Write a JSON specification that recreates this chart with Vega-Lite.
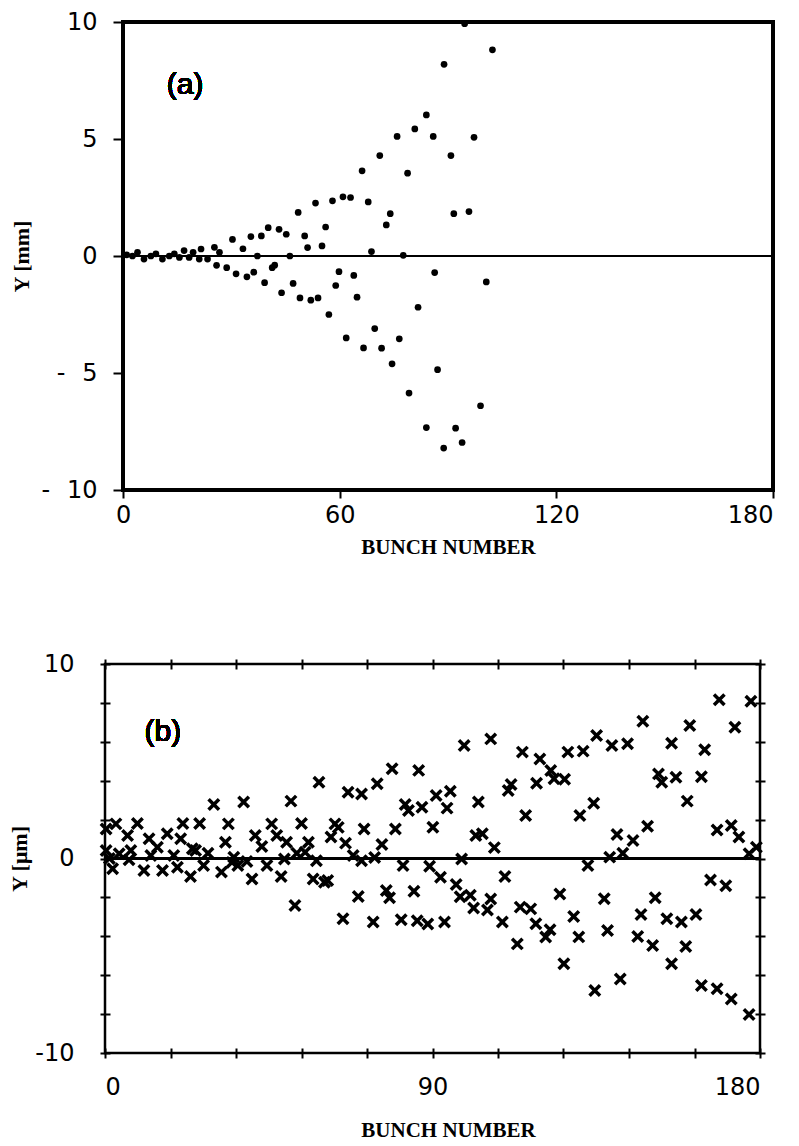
{
  "$schema": "https://vega.github.io/schema/vega-lite/v6.json",
  "background": "white",
  "padding": {"left": 7, "top": 10, "right": 10, "bottom": 2},
  "config": {
    "view": {"stroke": "black", "strokeWidth": 2.5},
    "axis": {"labelFont": "DejaVu Sans", "labelFontSize": 24, "labelColor": "black", "titleFont": "Liberation Serif", "titleFontWeight": "bold", "titleColor": "black", "tickColor": "black", "tickWidth": 2, "domain": false, "grid": false}
  },
  "datasets": {
    "a": [
      {"x":1,"y":0.05},{"x":2.6,"y":0.0},{"x":4,"y":0.16},{"x":5.8,"y":-0.13},{"x":7.7,"y":0.0},{"x":9.1,"y":0.09},{"x":10.9,"y":-0.13},{"x":12.8,"y":0.0},{"x":14.2,"y":0.09},{"x":15.6,"y":-0.06},{"x":16.9,"y":0.23},{"x":18.3,"y":-0.06},{"x":19.4,"y":0.16},{"x":21.1,"y":-0.13},{"x":21.6,"y":0.3},{"x":23.4,"y":-0.13},{"x":25.3,"y":0.37},{"x":25.9,"y":-0.4},{"x":26.7,"y":0.16},{"x":28.7,"y":-0.5},{"x":30.3,"y":0.71},{"x":31.3,"y":-0.76},{"x":33.2,"y":0.31},{"x":34.3,"y":-0.89},{"x":35.4,"y":0.83},{"x":36.2,"y":-0.69},{"x":37.2,"y":0.0},{"x":38.3,"y":0.86},{"x":39.2,"y":-1.14},{"x":40.2,"y":1.21},{"x":41.3,"y":-0.5},{"x":42,"y":-0.39},{"x":43.2,"y":1.14},{"x":43.9,"y":-1.57},{"x":45.2,"y":0.93},{"x":46.2,"y":0.0},{"x":47.1,"y":-1.17},{"x":48.5,"y":1.86},{"x":49,"y":-1.79},{"x":50.3,"y":0.86},{"x":51.1,"y":0.36},{"x":52,"y":-1.89},{"x":53.3,"y":2.26},{"x":54,"y":-1.79},{"x":55.1,"y":0.43},{"x":56.1,"y":1.24},{"x":57,"y":-2.5},{"x":58,"y":2.36},{"x":58.9,"y":-1.26},{"x":59.8,"y":-0.67},{"x":60.9,"y":2.53},{"x":61.8,"y":-3.5},{"x":63,"y":2.5},{"x":63.9,"y":-0.83},{"x":64.8,"y":-1.76},{"x":66.2,"y":3.64},{"x":66.6,"y":-3.93},{"x":67.9,"y":2.31},{"x":68.8,"y":0.19},{"x":69.7,"y":-3.1},{"x":71.1,"y":4.29},{"x":71.6,"y":-3.94},{"x":72.9,"y":1.33},{"x":74,"y":1.81},{"x":74.5,"y":-4.61},{"x":75.9,"y":5.11},{"x":76.5,"y":-3.54},{"x":77.6,"y":0.03},{"x":78.8,"y":3.54},{"x":79.2,"y":-5.86},{"x":80.8,"y":5.43},{"x":81.7,"y":-2.19},{"x":84,"y":6.03},{"x":84,"y":-7.33},{"x":85.9,"y":5.11},{"x":86.3,"y":-0.71},{"x":87.1,"y":-4.86},{"x":88.8,"y":-8.21},{"x":88.9,"y":8.19},{"x":90.8,"y":4.29},{"x":91.6,"y":1.81},{"x":92.1,"y":-7.36},{"x":93.9,"y":-7.97},{"x":94.6,"y":9.93},{"x":95.8,"y":1.9},{"x":97.2,"y":5.07},{"x":99,"y":-6.4},{"x":100.6,"y":-1.11},{"x":102.3,"y":8.81}
    ],
    "b": [
      {"x":0.3,"y":1.52},{"x":3.0,"y":1.78},{"x":6.2,"y":1.18},{"x":8.9,"y":1.8},{"x":0.3,"y":0.41},{"x":1.2,"y":0.0},{"x":3.9,"y":0.24},{"x":2.1,"y":-0.53},{"x":7.1,"y":0.41},{"x":6.6,"y":-0.07},{"x":10.7,"y":-0.62},{"x":12.1,"y":1.01},{"x":14.4,"y":0.58},{"x":17.1,"y":1.27},{"x":12.6,"y":0.15},{"x":15.8,"y":-0.62},{"x":18.9,"y":0.15},{"x":19.9,"y":-0.45},{"x":20.8,"y":1.01},{"x":21.4,"y":1.8},{"x":23.5,"y":-0.93},{"x":24.0,"y":0.5},{"x":24.9,"y":0.41},{"x":26.0,"y":1.8},{"x":27.1,"y":-0.36},{"x":28.3,"y":0.27},{"x":29.9,"y":2.78},{"x":32.0,"y":-0.7},{"x":33.1,"y":0.84},{"x":33.9,"y":1.78},{"x":34.9,"y":-0.2},
      {"x":35.4,"y":0.07},{"x":36.5,"y":-0.36},{"x":38.1,"y":2.9},{"x":39.0,"y":-0.15},{"x":40.4,"y":-1.05},{"x":41.3,"y":1.18},{"x":43.1,"y":0.62},{"x":44.5,"y":-0.36},{"x":45.8,"y":1.78},{"x":47.2,"y":1.18},{"x":48.4,"y":-0.93},{"x":49.3,"y":-0.03},{"x":49.9,"y":0.84},{"x":51.1,"y":2.95},{"x":52.7,"y":0.27},{"x":52.2,"y":-2.42},{"x":54.0,"y":1.8},{"x":55.0,"y":0.32},{"x":55.9,"y":0.84},{"x":57.2,"y":-1.05},{"x":58.1,"y":-0.12},{"x":58.8,"y":3.92},{"x":60.3,"y":-1.22},{"x":61.2,"y":-1.13},{"x":62.1,"y":1.1},{"x":63.2,"y":1.78},{"x":64.1,"y":1.6},{"x":65.4,"y":-3.1},{"x":66.1,"y":0.79},{"x":66.8,"y":3.41},{"x":68.2,"y":0.15},{"x":69.6,"y":-1.95},{"x":70.5,"y":3.32},{"x":70.5,"y":-0.12},{"x":71.2,"y":1.52},
      {"x":73.7,"y":-3.27},{"x":74.1,"y":0.05},{"x":74.8,"y":3.84},{"x":76.1,"y":0.72},{"x":77.3,"y":-1.65},{"x":78.2,"y":-2.02},{"x":78.9,"y":4.61},{"x":79.8,"y":1.52},{"x":81.4,"y":-3.15},{"x":81.9,"y":-0.36},{"x":82.5,"y":2.78},{"x":83.4,"y":2.47},{"x":84.9,"y":-1.68},{"x":85.8,"y":-3.2},{"x":86.2,"y":4.53},{"x":87.1,"y":2.64},{"x":88.7,"y":-3.37},{"x":89.2,"y":-0.4},{"x":90.1,"y":1.61},{"x":91.0,"y":3.24},{"x":92.2,"y":-0.96},{"x":93.3,"y":-3.27},{"x":94.0,"y":2.59},{"x":94.9,"y":3.46},{"x":96.5,"y":-1.34},{"x":97.6,"y":-1.97},{"x":98.0,"y":-0.03},{"x":98.7,"y":5.81},{"x":100.4,"y":-1.89},{"x":101.3,"y":-2.54},{"x":101.9,"y":1.18},{"x":102.6,"y":2.9},{"x":103.7,"y":1.27},{"x":105.1,"y":-2.65},{"x":106.0,"y":-2.08},{"x":106.0,"y":6.15},{"x":107.0,"y":0.56},
      {"x":109.2,"y":-3.27},{"x":109.9,"y":-0.93},{"x":110.8,"y":3.5},{"x":111.6,"y":3.8},{"x":113.3,"y":-4.39},{"x":114.1,"y":-2.5},{"x":114.7,"y":5.47},{"x":115.6,"y":2.21},{"x":117.0,"y":-2.59},{"x":118.4,"y":-3.36},{"x":118.6,"y":3.87},{"x":119.5,"y":5.12},{"x":121.1,"y":-4.04},{"x":122.3,"y":-3.66},{"x":122.5,"y":4.52},{"x":123.4,"y":4.1},{"x":125.0,"y":-1.82},{"x":126.1,"y":-5.41},{"x":126.3,"y":4.07},{"x":127.2,"y":5.47},{"x":128.8,"y":-2.98},{"x":130.2,"y":-4.03},{"x":130.5,"y":2.21},{"x":131.4,"y":5.52},{"x":132.7,"y":-0.36},{"x":134.3,"y":2.84},{"x":134.6,"y":-6.79},{"x":135.1,"y":6.32},{"x":137.2,"y":-2.07},{"x":138.1,"y":-3.7},{"x":138.7,"y":0.07},{"x":139.3,"y":5.81},{"x":140.7,"y":1.23},{"x":141.6,"y":-6.19},{"x":142.3,"y":0.27},
      {"x":143.6,"y":5.9},{"x":145.1,"y":0.93},{"x":146.4,"y":-4.01},{"x":147.3,"y":-2.88},{"x":147.8,"y":7.06},{"x":149.1,"y":1.66},{"x":150.5,"y":-4.47},{"x":151.2,"y":-2.02},{"x":152.1,"y":4.35},{"x":153.0,"y":3.92},{"x":154.4,"y":-3.1},{"x":155.7,"y":-5.41},{"x":155.7,"y":5.93},{"x":156.9,"y":4.18},{"x":158.4,"y":-3.27},{"x":159.6,"y":-4.52},{"x":160.0,"y":2.95},{"x":160.7,"y":6.84},{"x":162.4,"y":-2.88},{"x":163.9,"y":4.2},{"x":163.9,"y":-6.53},{"x":164.8,"y":5.59},{"x":166.4,"y":-1.1},{"x":168.2,"y":1.47},{"x":168.2,"y":-6.7},{"x":168.8,"y":8.16},{"x":170.6,"y":-1.4},{"x":172.1,"y":1.7},{"x":172.1,"y":-7.22},{"x":173.1,"y":6.75},{"x":174.2,"y":1.1},{"x":177.0,"y":-8.02},{"x":177.0,"y":0.24},{"x":177.5,"y":8.09},{"x":179.0,"y":0.58}
    ]
  },
  "spacing": 93,
  "vconcat": [
    {
      "width": 668,
      "height": 468,
      "view": {"strokeWidth": 0},
      "data": {"name": "a"},
      "resolve": {"axis": {"x": "independent", "y": "independent"}},
      "layer": [
        {
          "mark": {"type": "point", "filled": true, "shape": "circle", "size": 45, "color": "black", "opacity": 1},
          "encoding": {
            "x": {"field": "x", "type": "quantitative", "scale": {"domain": [-5, 180], "nice": false, "zero": false},
              "axis": {"orient": "bottom", "values": [0, 60, 120, 180], "tickSize": 8, "labelPadding": 5, "title": "BUNCH NUMBER", "titleFontSize": 21, "titlePadding": 9, "titleX": 343}},
            "y": {"field": "y", "type": "quantitative", "scale": {"domain": [-10, 10], "nice": false},
              "axis": {"orient": "left", "offset": -18, "values": [-10, -5, 0, 5, 10], "tickSize": 10, "labelPadding": 16, "labelExpr": "datum.value < 0 ? '-\u2002\u2009' + format(-datum.value, 'd') : datum.label", "title": "Y [mm]", "titleFontSize": 22, "titlePadding": 8}}
          }
        },
        {
          "mark": {"type": "rect", "fill": "transparent", "stroke": "black", "strokeWidth": 2.5},
          "encoding": {
            "x": {"datum": 0, "type": "quantitative", "axis": null},
            "x2": {"datum": 180},
            "y": {"datum": -10, "type": "quantitative", "axis": null},
            "y2": {"datum": 10}
          }
        },
        {
          "mark": {"type": "rule", "color": "black", "strokeWidth": 2},
          "encoding": {"x": {"datum": 0, "type": "quantitative", "axis": null}, "x2": {"datum": 180}, "y": {"datum": 0, "type": "quantitative", "axis": null}}
        },
        {
          "mark": {"type": "text", "font": "Liberation Sans", "fontSize": 30, "color": "black"},
          "encoding": {"x": {"datum": 17.2, "type": "quantitative", "axis": null}, "y": {"datum": 7.3, "type": "quantitative", "axis": null}, "text": {"value": "(a)"}}
        }
      ]
    },
    {
      "width": 655,
      "height": 389,
      "data": {"name": "b"},
      "resolve": {"axis": {"x": "independent", "y": "independent"}},
      "layer": [
        {
          "mark": {"type": "point", "shape": "M-1,-1L1,1M-1,1L1,-1", "filled": false, "size": 110, "color": "black", "strokeWidth": 3.5, "opacity": 1},
          "encoding": {
            "x": {"field": "x", "type": "quantitative", "scale": {"domain": [0, 180], "nice": false, "zero": false},
              "axis": {"orient": "bottom", "values": [0, 18, 36, 54, 72, 90, 108, 126, 144, 162, 180], "offset": -5, "tickSize": 10, "labelPadding": 17, "labelExpr": "datum.value % 90 === 0 ? datum.label : ''", "title": "BUNCH NUMBER", "titleFontSize": 21, "titlePadding": 20, "titleX": 343}},
            "y": {"field": "y", "type": "quantitative", "scale": {"domain": [-10, 10], "nice": false},
              "axis": {"orient": "left", "values": [-10, -8, -6, -4, -2, 0, 2, 4, 6, 8, 10], "offset": -5, "tickSize": 10, "labelPadding": 26, "labelExpr": "datum.value === -10 ? '-10' : (datum.value % 10 === 0 ? datum.label : '')", "title": "Y [μm]", "titleFontSize": 22, "titlePadding": 3}}
          }
        },
        {
          "mark": {"type": "point", "opacity": 0},
          "encoding": {
            "x": {"field": "x", "type": "quantitative",
              "axis": {"orient": "top", "values": [0, 18, 36, 54, 72, 90, 108, 126, 144, 162, 180], "offset": -5, "tickSize": 10, "labels": false, "title": null}},
            "y": {"field": "y", "type": "quantitative",
              "axis": {"orient": "right", "values": [-10, -8, -6, -4, -2, 0, 2, 4, 6, 8, 10], "offset": -5, "tickSize": 10, "labels": false, "title": null}}
          }
        },
        {
          "mark": {"type": "rule", "color": "black", "strokeWidth": 2},
          "encoding": {"y": {"datum": 0, "type": "quantitative", "axis": null}}
        },
        {
          "mark": {"type": "text", "font": "Liberation Sans", "fontSize": 30, "color": "black"},
          "encoding": {"x": {"datum": 15.9, "type": "quantitative", "axis": null}, "y": {"datum": 6.5, "type": "quantitative", "axis": null}, "text": {"value": "(b)"}}
        }
      ]
    }
  ]
}
